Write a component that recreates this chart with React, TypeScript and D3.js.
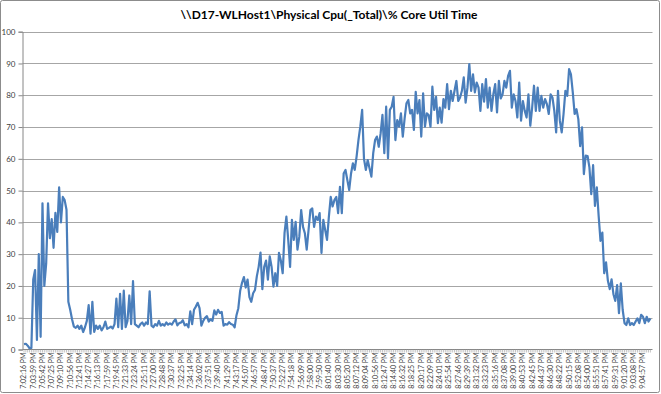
import { useEffect, useRef } from 'react';
import * as d3 from 'd3';

const chartTitle = '\\\\D17-WLHost1\\Physical Cpu(_Total)\\% Core Util Time';

// one label every 5 samples
const samplesPerLabel = 5;

const timeLabels = [
  '7:02:16 PM', '7:03:59 PM', '7:05:42 PM', '7:07:25 PM', '7:09:10 PM', '7:10:56 PM', '7:12:41 PM',
  '7:14:27 PM', '7:16:13 PM', '7:17:59 PM', '7:19:45 PM', '7:21:33 PM', '7:23:24 PM', '7:25:11 PM',
  '7:27:00 PM', '7:28:48 PM', '7:30:37 PM', '7:32:25 PM', '7:34:14 PM', '7:36:02 PM', '7:37:51 PM',
  '7:39:40 PM', '7:41:29 PM', '7:43:17 PM', '7:45:07 PM', '7:46:57 PM', '7:48:47 PM', '7:50:37 PM',
  '7:52:27 PM', '7:54:18 PM', '7:56:09 PM', '7:58:00 PM', '7:59:50 PM', '8:01:40 PM', '8:03:30 PM',
  '8:05:20 PM', '8:07:12 PM', '8:09:04 PM', '8:10:56 PM', '8:12:47 PM', '8:14:40 PM', '8:16:32 PM',
  '8:18:25 PM', '8:20:17 PM', '8:22:09 PM', '8:24:01 PM', '8:25:54 PM', '8:27:46 PM', '8:29:39 PM',
  '8:31:32 PM', '8:33:23 PM', '8:35:16 PM', '8:37:08 PM', '8:39:00 PM', '8:40:53 PM', '8:42:45 PM',
  '8:44:37 PM', '8:46:30 PM', '8:48:22 PM', '8:50:15 PM', '8:52:08 PM', '8:54:00 PM', '8:55:51 PM',
  '8:57:41 PM', '8:59:31 PM', '9:01:20 PM', '9:03:08 PM', '9:04:57 PM',
];

// % Core Util Time samples
const coreUtil = [
  1.7, 1.8, 1.2, 0.4, 0.5, 22, 25, 3, 30, 4,
  46, 20, 27, 46, 35, 41, 32, 43, 37, 51,
  40, 48, 47, 44, 15, 12.5, 9.5, 7.2, 6.8, 7.5,
  6.5, 7.5, 5.5, 7, 9, 14, 5, 15, 5.5, 7.5,
  6.5, 7.5, 6, 7, 8.8, 6.5, 6.8, 7.2, 6.6, 8,
  16, 7, 17.5, 6.5, 18.5, 7, 9, 17, 8, 21.5,
  8, 7.5, 7, 8, 8.5, 7.5, 8.5, 8, 18.3, 7.5,
  7, 8, 7.5, 9, 7.5, 8, 7.5, 8.5, 7.8, 8.2,
  7.8, 8.8, 9.5, 7.6, 8.3, 8.5, 9.2, 7.6, 8, 7,
  12, 8, 12.5, 13.5, 14.7, 13, 7.5, 9, 10, 10.5,
  8.8, 9.5, 9, 12.3, 11, 12.5, 11.5, 11.8, 7.5, 8,
  7.8, 8.6, 8, 7.8, 7, 10.8, 13, 18.5, 21, 22.8,
  19.5, 22, 16.5, 15, 17.7, 18.7, 23, 26, 30.5, 19,
  26, 28, 22, 29.3, 26, 19.8, 24, 20, 30.4, 28,
  24, 36.6, 41.8, 34.5, 26, 40.8, 34.5, 40.2, 31.4, 35.5,
  43.9, 38.6, 36.6, 31.4, 37.6, 43.9, 44.4, 38.6, 41.8, 40.8,
  42.9, 30.4, 40.8, 37.6, 34.5, 41.8, 48, 45, 47, 48,
  42.9, 51.2, 42.9, 55.4, 56.5, 53.3, 50.2, 55.4, 58.6, 56.5,
  60.7, 65.9, 70.1, 75.4, 60, 56.5, 59.6, 57, 54.4, 61.8,
  65.9, 67, 63.8, 68, 73.8, 61.8, 76.4, 60.2, 75.4, 76.4,
  79.5, 65.9, 72.2, 70.1, 74.3, 67, 72.7, 77.5, 78.5, 74.3,
  75.4, 69.1, 81.1, 74.3, 78.5, 67, 80.6, 70.1, 74.3, 73.8,
  70.1, 82.7, 75.4, 79.5, 71.2, 76.1, 71.4, 78.8, 76.1, 83.5,
  75.6, 81.4, 78.2, 81.4, 84.5, 78.2, 79.3, 81.4, 85.6, 77.7,
  82.4, 89.8, 81.4, 86.6, 80.9, 84, 82.4, 75.1, 83.5, 78,
  85.1, 76.1, 82.4, 75.1, 80.3, 83.5, 74.6, 84.5, 79, 80.3,
  84.5, 82.4, 86.1, 87.7, 76.1, 80.3, 78.2, 73, 84, 72,
  78.2, 75.1, 73, 80.3, 70.4, 76, 83, 75.1, 82.4, 75.1,
  79.8, 76.1, 78.8, 77.2, 74.1, 80.3, 79.3, 75.1, 68.3, 81.4,
  72, 68.3, 74.1, 81.4, 79.8, 88.2, 86.6, 80.9, 74.1, 75.6,
  72.5, 64, 69.9, 55.2, 61, 60.9, 57.3, 48.9, 58, 45.2,
  51, 42, 34.2, 36.8, 24, 27.4, 21.6, 19, 22.1, 17.4,
  15.3, 20.3, 11.4, 20.8, 12.5, 8.3, 7.7, 9.8, 7.7, 8.3,
  7.7, 8.8, 9.8, 8.3, 10.9, 10.3, 8.3, 10.3, 8.8, 9.8,
];

const yTicks = [0, 10, 20, 30, 40, 50, 60, 70, 80, 90, 100];

const fontFamily = 'Lato, "Open Sans", sans-serif';

export default function App() {
  const svgRef = useRef<SVGSVGElement>(null);
  const width = 661;
  const height = 394;

  useEffect(() => {
    if (!svgRef.current) return;
    document.body.style.margin = '0';

    const svg = d3.select(svgRef.current);
    svg.selectAll('*').remove();

    const plot = { left: 22.5, right: 652.5, top: 31.7, bottom: 349.5 };

    // Chart frame
    svg.append('rect')
      .attr('x', 0.5).attr('y', 0.5)
      .attr('width', width - 2).attr('height', height - 2)
      .attr('rx', 2)
      .attr('fill', '#ffffff')
      .attr('stroke', '#8c8c8c');

    // Title
    svg.append('text')
      .attr('x', 329)
      .attr('y', 19)
      .attr('text-anchor', 'middle')
      .style('font-family', fontFamily)
      .style('font-size', '12px')
      .style('font-weight', 'bold')
      .attr('fill', '#000000')
      .text(chartTitle);

    const lastLabelIndex = (timeLabels.length - 1) * samplesPerLabel;

    const xScale = d3.scaleLinear()
      .domain([0, lastLabelIndex])
      .range([24, 643]);

    const yScale = d3.scaleLinear()
      .domain([0, 100])
      .range([plot.bottom, plot.top]);

    // Gridlines
    svg.append('g')
      .selectAll('line')
      .data(yTicks.filter(d => d > 0))
      .enter().append('line')
      .attr('x1', plot.left).attr('x2', plot.right)
      .attr('y1', d => Math.round(yScale(d)) + 0.5)
      .attr('y2', d => Math.round(yScale(d)) + 0.5)
      .attr('stroke', '#a6a6a6')
      .attr('stroke-width', 1);

    // Y axis
    const yAxis = svg.append('g')
      .attr('transform', `translate(${plot.left},0)`)
      .call(d3.axisLeft(yScale).tickValues(yTicks).tickSize(4).tickPadding(3));
    yAxis.select('.domain').attr('stroke', '#868686');
    yAxis.selectAll('.tick line').attr('stroke', '#868686');
    yAxis.selectAll('text')
      .style('font-family', fontFamily)
      .style('font-size', '8px')
      .attr('fill', '#404040');

    // X axis: tick mark per sample, label every few samples
    const tickIdx = d3.range(0, coreUtil.length);
    const xAxis = svg.append('g')
      .attr('transform', `translate(0,${plot.bottom})`);
    xAxis.append('line')
      .attr('x1', plot.left).attr('x2', plot.right)
      .attr('y1', 0).attr('y2', 0)
      .attr('stroke', '#868686');
    xAxis.selectAll('.minor')
      .data(tickIdx)
      .enter().append('line')
      .attr('class', 'minor')
      .attr('x1', d => xScale(d)).attr('x2', d => xScale(d))
      .attr('y1', 0).attr('y2', 3)
      .attr('stroke', '#9a9a9a')
      .attr('stroke-width', 0.6);
    xAxis.selectAll('.lbl')
      .data(timeLabels)
      .enter().append('text')
      .attr('class', 'lbl')
      .attr('transform', (d, i) => `translate(${xScale(i * samplesPerLabel)},3) rotate(-90)`)
      .attr('text-anchor', 'end')
      .attr('dy', '0.35em')
      .style('font-family', fontFamily)
      .style('font-size', '7px')
      .attr('fill', '#404040')
      .text(d => d);

    // Series line
    const line = d3.line<number>()
      .x((d, i) => xScale(i))
      .y(d => yScale(d));

    svg.append('path')
      .datum(coreUtil)
      .attr('fill', 'none')
      .attr('stroke', '#4a7ebb')
      .attr('stroke-width', 2.2)
      .attr('stroke-linejoin', 'round')
      .attr('d', line);
  }, []);

  return (
    <svg
      ref={svgRef}
      width={width}
      height={height}
      style={{ position: 'absolute', left: 0, top: 0, background: '#ffffff' }}
    />
  );
}
